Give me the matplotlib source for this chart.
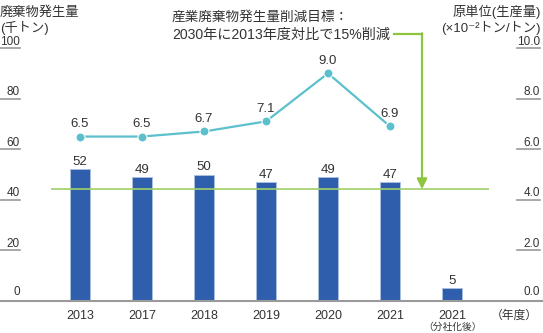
import matplotlib
matplotlib.use('Agg')
import matplotlib.pyplot as plt

plt.rcParams['font.family'] = ['Liberation Sans', 'Noto Sans CJK JP', 'DejaVu Sans']

# data
years = ['2013', '2017', '2018', '2019', '2020', '2021', '2021\n（分社化後）']
waste = [52, 49, 50, 47, 49, 47, 5]          # 千トン
intensity = [6.5, 6.5, 6.7, 7.1, 9.0, 6.9]   # ×10^-2 トン/トン
left_ticks = [0, 20, 40, 60, 80, 100]
right_ticks = [0.0, 2.0, 4.0, 6.0, 8.0, 10.0]
target = waste[0] * 0.85  # 2013年度比15%削減

BAR = '#2f5fac'
LINE = '#5cc0cc'
GREEN = '#8cc63f'
TXT = '#333333'
GRAY = '#9a9a9a'

W, H = 543, 333
fig = plt.figure(figsize=(W / 100, H / 100), dpi=100)
ax = fig.add_axes([0, 32 / H, 1, 253 / H])
ax.set_xlim(-80 / 62, 7 + 29 / 62)
ax.set_ylim(0, 100)
ax.axis('off')


def ftext(px, py, s, **kw):
    # place text in figure pixels measured from top-left
    fig.text(px / W, 1 - py / H, s, color=TXT, va='baseline', **kw)


x = list(range(len(years)))

# bars
ax.bar(x, waste, width=20 / 62, color=BAR, edgecolor='#a9bfdf', linewidth=0.7, zorder=2)
for xi, v in zip(x, waste):
    ax.annotate(str(v), (xi, v), xytext=(0, 3), textcoords='offset points',
                ha='center', va='baseline', fontsize=9.5, color=TXT)

# target line
ax.hlines(target, -29 / 62, 409 / 62, color='#9fd06a', linewidth=1.2, zorder=3)

# baseline
ax.axhline(0, color=GRAY, linewidth=1.5, zorder=4, clip_on=False)

# left axis ticks
ytr = ax.get_yaxis_transform()
for t in left_ticks:
    if t > 0:
        ax.plot([0, 20 / W], [t, t], transform=ytr, color=GRAY, linewidth=1.2, clip_on=False)
    ax.annotate(str(t), (20 / W, t), xycoords=ytr, xytext=(0, 2.5 if t > 0 else 4),
                textcoords='offset points', ha='right', va='baseline',
                fontsize=8.5, color=TXT)

# right axis
ax2 = ax.twinx()
ax2.set_position(ax.get_position())
ax2.set_ylim(0, 10)
ax2.axis('off')
ytr2 = ax2.get_yaxis_transform()
for t in right_ticks:
    if t > 0:
        ax2.plot([517 / W, 540 / W], [t, t], transform=ytr2, color=GRAY, linewidth=1.2, clip_on=False)
    ax2.annotate(f'{t:.1f}', (540 / W, t), xycoords=ytr2, xytext=(0, 2.5 if t > 0 else 4),
                 textcoords='offset points', ha='right', va='baseline',
                 fontsize=8.5, color=TXT)

# intensity line
xl = x[:len(intensity)]
ax2.plot(xl, intensity, color=LINE, linewidth=1.6, marker='o', markersize=6.5,
         markerfacecolor=LINE, markeredgecolor='white', markeredgewidth=0.8, zorder=5)
for xi, v in zip(xl, intensity):
    ax2.annotate(f'{v:.1f}', (xi, v), xytext=(0, 7), textcoords='offset points',
                 ha='center', va='baseline', fontsize=9.5, color=TXT)

# x labels
for xi, lab in zip(x, years):
    parts = lab.split('\n')
    ax.annotate(parts[0], (xi, 0), xytext=(0, -13), textcoords='offset points',
                ha='center', va='baseline', fontsize=9, color=TXT)
    if len(parts) > 1:
        ax.annotate(parts[1], (xi, 0), xytext=(0, -21), textcoords='offset points',
                    ha='center', va='baseline', fontsize=7, color=TXT)
ax.annotate('（年度）', (7, 0), xytext=(0, -13), textcoords='offset points',
            ha='center', va='baseline', fontsize=8.5, color=TXT)

# axis titles
ftext(0, 16, '廃棄物発生量', ha='left', fontsize=9.5)
ftext(0, 32, '(千トン)', ha='left', fontsize=9.5)
ftext(541, 16, '原単位(生産量)', ha='right', fontsize=9.5)
ftext(541, 32, '(×10⁻²トン/トン)', ha='right', fontsize=9.5)

# target annotation
ftext(172, 21, '産業廃棄物発生量削減目標：', ha='left', fontsize=9.8)
ftext(172, 39, '2030年に2013年度対比で15%削減', ha='left', fontsize=10.2)
y_txt = (301 - 34) / 2.53
x_arr = (422 - 80) / 62
ax.plot([(394 - 80) / 62, x_arr], [y_txt, y_txt], color=GREEN, linewidth=1.6, clip_on=False)
ax.annotate('', xy=(x_arr, target), xytext=(x_arr, y_txt + 0.3), annotation_clip=False,
            arrowprops=dict(arrowstyle='-|>,head_length=0.6,head_width=0.3', color=GREEN,
                            linewidth=1.6, shrinkA=0, shrinkB=0))

fig.savefig('out.png', dpi=100)
